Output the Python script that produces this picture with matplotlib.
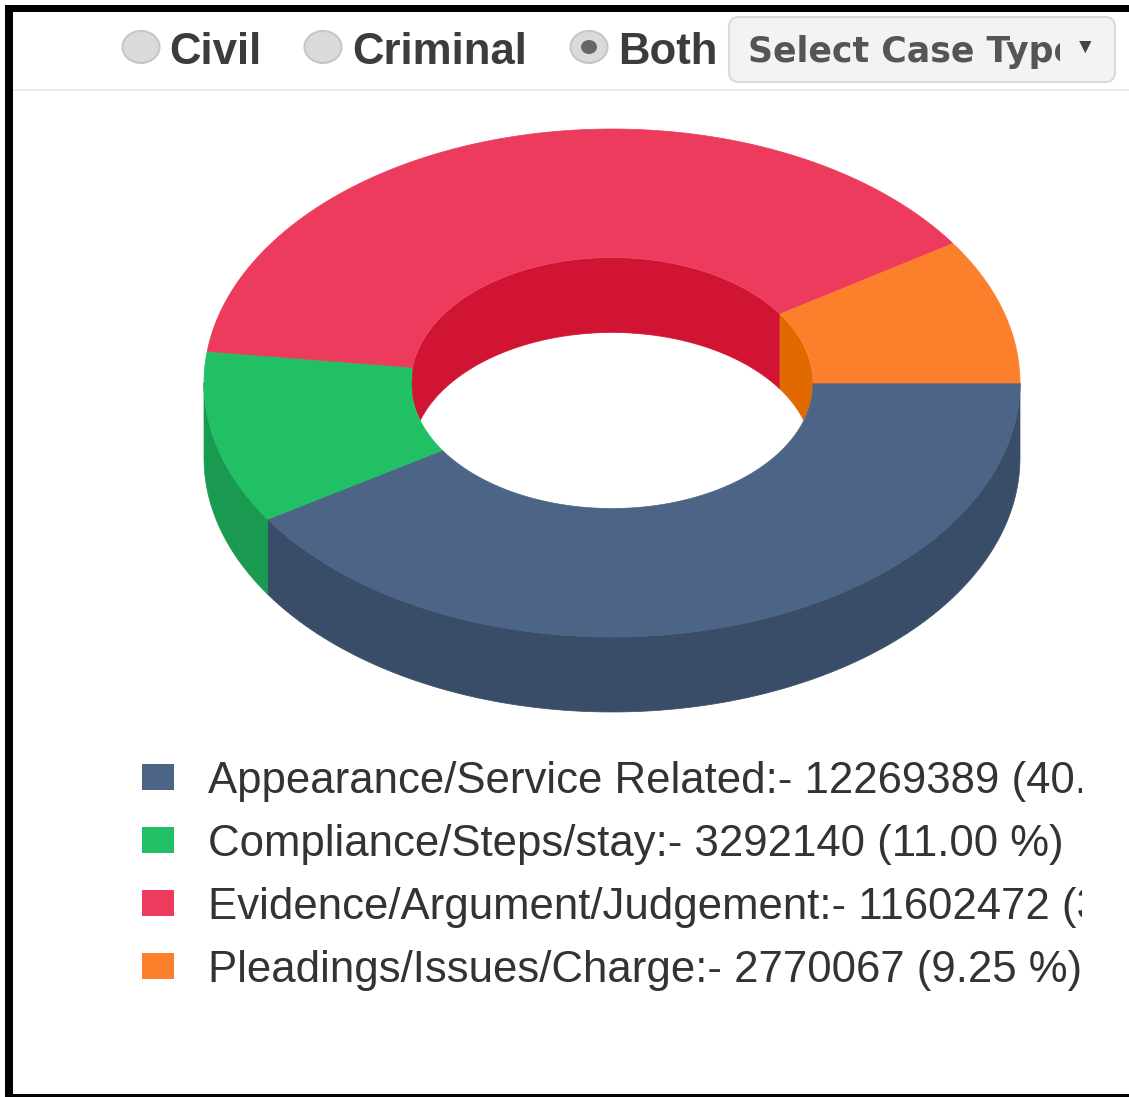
import numpy as np
import matplotlib
matplotlib.use('Agg')
import matplotlib.pyplot as plt
from matplotlib.patches import Ellipse, FancyBboxPatch, Polygon, Rectangle

plt.rcParams['font.family'] = ['Liberation Sans', 'DejaVu Sans']

case_types = ['Appearance/Service Related', 'Compliance/Steps/stay',
              'Evidence/Argument/Judgement', 'Pleadings/Issues/Charge']
case_counts = [12269389, 3292140, 11602472, 2770067]
case_percents = ['40.98', '11.00', '38.75', '9.25']
top_colors = ['#4c6586', '#22c065', '#ec3b5d', '#fc7f2c']
wall_colors = ['#3a4d68', '#1a9a50', '#d21434', '#e06a00']
radio_labels = ['Civil', 'Criminal', 'Both']
radio_selected = 'Both'
dropdown_label = 'Select Case Type'

cx, cy = 612, 383
rx, ry = 408, 254
irx, iry = 201, 125.5
depth = 75

fig = plt.figure(figsize=(11.29, 10.97), dpi=100)
ax = fig.add_axes([0, 0, 1, 1])
ax.set_xlim(0, 1129)
ax.set_ylim(1097, 0)
ax.axis('off')


def arc(a, b, rad_x, rad_y, shift=0):
    t = np.radians(np.linspace(a, b, 120))
    return np.column_stack([cx + rad_x * np.cos(t), cy + shift + rad_y * np.sin(t)])


edges = np.concatenate([[0], np.cumsum(case_counts)]) / np.sum(case_counts) * 360

# inner wall, only the part seen through the hole
hole = Ellipse((cx, cy), 2 * irx, 2 * iry, fc='white', ec='none', zorder=1)
ax.add_patch(hole)
for i in range(len(case_counts)):
    a, b = max(edges[i], 180), min(edges[i + 1], 360)
    if a < b:
        pts = np.vstack([arc(a, b, irx, iry), arc(b, a, irx, iry, depth)])
        wall = Polygon(pts, fc=wall_colors[i], ec=wall_colors[i], lw=0.5, zorder=2)
        ax.add_patch(wall)
        wall.set_clip_path(hole)

# outer wall, front half only
for i in range(len(case_counts)):
    a, b = edges[i], min(edges[i + 1], 180)
    if a < b:
        pts = np.vstack([arc(a, b, rx, ry), arc(b, a, rx, ry, depth)])
        ax.add_patch(Polygon(pts, fc=wall_colors[i], ec=wall_colors[i], lw=0.5, zorder=3))

# top face
for i in range(len(case_counts)):
    pts = np.vstack([arc(edges[i], edges[i + 1], rx, ry), arc(edges[i + 1], edges[i], irx, iry)])
    ax.add_patch(Polygon(pts, fc=top_colors[i], ec=top_colors[i], lw=0.5, zorder=4))

# legend, long rows are cut off by the container in the original
legend_y = [777, 840, 903, 966]
clip_box = Rectangle((0, 0), 1082, 1097, transform=ax.transData)
for i, name in enumerate(case_types):
    ax.add_patch(Rectangle((142, legend_y[i] - 13), 32, 26, fc=top_colors[i], ec='none', zorder=5))
    t = ax.text(208, legend_y[i], f'{name}:- {case_counts[i]} ({case_percents[i]} %)',
                fontsize=31.5, color='#333333', va='center_baseline', ha='left', zorder=5)
    t.set_clip_path(clip_box)
    t.set_clip_on(True)

# radio buttons
radio_x = [141, 323, 589]
label_x = [169, 352, 618]
for x, lx, label in zip(radio_x, label_x, radio_labels):
    ax.add_patch(Ellipse((x, 47), 37, 32, fc='#dadada', ec='#c6c6c6', lw=1.5, zorder=5))
    if label == radio_selected:
        ax.add_patch(Ellipse((x, 47), 16, 14, fc='#666666', ec='none', zorder=6))
    ax.text(lx, 53, label, fontsize=31.5, fontweight='bold', color='#3c3c3c',
            va='center', ha='left', zorder=5)

# dropdown
ax.add_patch(FancyBboxPatch((729, 17), 386, 65, boxstyle='round,pad=0,rounding_size=10',
                            fc='#f1f3f5', ec='#d8dadd', lw=1.5, zorder=4))
dd = ax.text(748, 52, dropdown_label, fontsize=25, fontweight='bold', color='#555555',
             family=['DejaVu Sans'], va='center', ha='left', zorder=5)
dd.set_clip_path(Rectangle((0, 0), 1060, 1097, transform=ax.transData))
dd.set_clip_on(True)
ax.text(1085, 47, '▼', fontsize=15, color='#444444', va='center', ha='center', zorder=5)

# header rule and screenshot border
ax.plot([13, 1129], [90, 90], color='#ececec', lw=1.5, zorder=3)
ax.add_patch(Rectangle((5, 5), 1124, 7, fc='black', ec='none', zorder=7))
ax.add_patch(Rectangle((5, 5), 8, 1092, fc='black', ec='none', zorder=7))
ax.add_patch(Rectangle((5, 1094), 1124, 3, fc='black', ec='none', zorder=7))

fig.savefig('out.png', dpi=100)
